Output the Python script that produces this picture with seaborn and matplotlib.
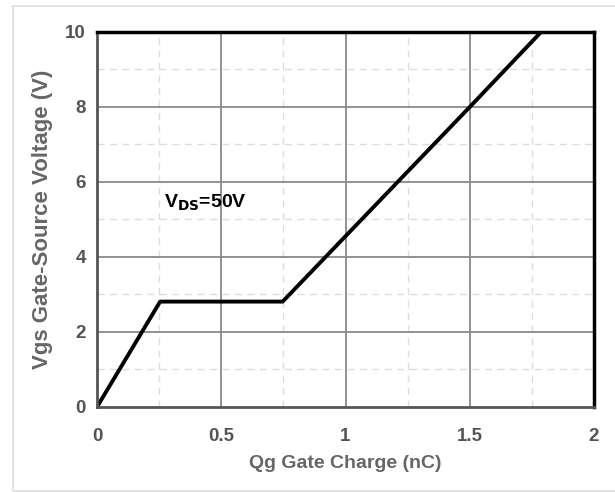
import numpy as np
import pandas as pd
import matplotlib
matplotlib.use("Agg")
import matplotlib.pyplot as plt
import seaborn as sns

# Gate charge curve
qg_nc = [0.0, 0.254, 0.747, 1.5, 1.787]
vgs_v = [0.0, 2.81, 2.81, 8.0, 10.0]

x_ticks = [0, 0.5, 1, 1.5, 2]
x_tick_labels = ["0", "0.5", "1", "1.5", "2"]
y_ticks = [0, 2, 4, 6, 8, 10]

df = pd.DataFrame({"Qg": qg_nc, "Vgs": vgs_v})

sns.set_style("white")
plt.rcParams['font.family'] = ['Liberation Sans', 'DejaVu Sans']

fig = plt.figure(figsize=(6.15, 4.92), dpi=100)
ax = fig.add_axes([0.1577, 0.1728, 0.8082, 0.7622])

# figure frame
fig.patches.append(plt.Rectangle((0.021, 0.002), 0.99, 0.986, transform=fig.transFigure,
                                 fill=False, edgecolor='#dddddd', linewidth=1.2))

# minor grid (dashed) and major grid (solid)
for xv in [0.25, 0.75, 1.25, 1.75]:
    ax.axvline(xv, color='#dcdcdc', linestyle=(0, (5, 4)), linewidth=1.0, zorder=1)
for yv in [1, 3, 5, 7, 9]:
    ax.axhline(yv, color='#dcdcdc', linestyle=(0, (5, 4)), linewidth=1.0, zorder=1)
for xv in [0.5, 1, 1.5]:
    ax.axvline(xv, color='#8a8a8a', linewidth=1.3, zorder=2)
for yv in [2, 4, 6, 8]:
    ax.axhline(yv, color='#8a8a8a', linewidth=1.3, zorder=2)

sns.lineplot(data=df, x="Qg", y="Vgs", color='black', linewidth=2.8, ax=ax, zorder=5)

ax.set_xlim(0, 2)
ax.set_ylim(0, 10)
ax.set_xticks(x_ticks)
ax.set_xticklabels(x_tick_labels)
ax.set_yticks(y_ticks)

ax.tick_params(axis='both', length=0, labelsize=13.5, labelcolor='#555555')
ax.tick_params(axis='x', pad=15)
ax.tick_params(axis='y', pad=8)
for lbl in ax.get_xticklabels() + ax.get_yticklabels():
    lbl.set_fontweight('bold')

ax.set_xlabel("Qg Gate Charge (nC)", fontsize=14, fontweight='bold', color='#666666', labelpad=7)
ax.set_ylabel("Vgs Gate-Source Voltage (V)", fontsize=16, fontweight='bold', color='#666666', labelpad=9)

ax.spines['left'].set_color('#555555')
ax.spines['left'].set_linewidth(2)
ax.spines['bottom'].set_color('#555555')
ax.spines['bottom'].set_linewidth(2)
ax.spines['top'].set_color('black')
ax.spines['top'].set_linewidth(2.5)
ax.spines['right'].set_color('black')
ax.spines['right'].set_linewidth(2.5)
for s in ax.spines.values():
    s.set_zorder(6)

ax.text(0.268, 5.45, r"V$_{\mathbf{DS}}$=50V", fontsize=14, fontweight='bold', color='black',
        ha='left', va='center', zorder=7)

fig.savefig("out.png", dpi=100)
